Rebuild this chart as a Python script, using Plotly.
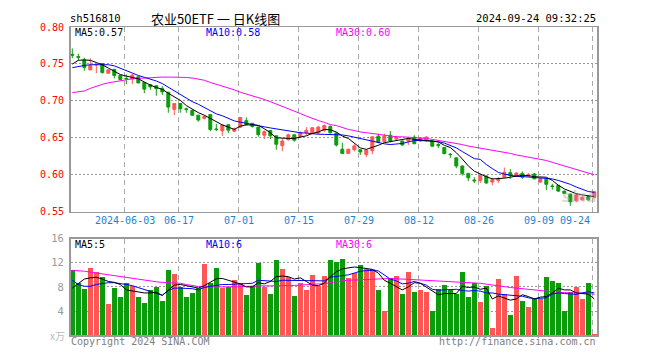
import plotly.graph_objects as go
import pandas as pd

W, H = 660, 360

# ---------------- data ----------------
holidays = ["2024-06-10", "2024-09-16", "2024-09-17"]
dates = [d.strftime("%Y-%m-%d") for d in pd.bdate_range("2024-05-21", "2024-09-24")
         if d.strftime("%Y-%m-%d") not in holidays]

open_p = [0.763, 0.760, 0.7555, 0.742, 0.7488, 0.7507, 0.7375, 0.7428, 0.7345, 0.7305,
          0.7297, 0.7327, 0.725, 0.722, 0.7205, 0.7166, 0.7118, 0.6886, 0.6965, 0.6893,
          0.6873, 0.6807, 0.6764, 0.6816, 0.662, 0.6595, 0.6678, 0.659, 0.6645, 0.6733,
          0.6698, 0.6646, 0.6536, 0.6600, 0.6528, 0.6395, 0.6475, 0.6542, 0.6519, 0.6571,
          0.6558, 0.6565, 0.6602, 0.6656, 0.6565, 0.6348, 0.629, 0.634, 0.634, 0.6275,
          0.6326, 0.6523, 0.6449, 0.6536, 0.6484, 0.6458, 0.6458, 0.651, 0.6458, 0.6466,
          0.6458, 0.641, 0.637, 0.6278, 0.623, 0.612, 0.602, 0.593, 0.5924, 0.5985,
          0.5903, 0.5924, 0.5968, 0.603, 0.5977, 0.602, 0.5985, 0.6012, 0.5903, 0.594,
          0.5848, 0.5858, 0.578, 0.574, 0.5649, 0.566, 0.5705, 0.5697]
high_p = [0.771, 0.764, 0.7585, 0.7576, 0.751, 0.751, 0.743, 0.743, 0.735, 0.736,
          0.736, 0.7335, 0.725, 0.7225, 0.721, 0.720, 0.712, 0.697, 0.697, 0.691,
          0.688, 0.681, 0.681, 0.682, 0.669, 0.668, 0.668, 0.664, 0.678, 0.6777,
          0.670, 0.665, 0.6602, 0.6605, 0.653, 0.6493, 0.6558, 0.6545, 0.6589, 0.6646,
          0.6646, 0.666, 0.6681, 0.667, 0.658, 0.6436, 0.635, 0.6414, 0.6345, 0.6348,
          0.6525, 0.6558, 0.6558, 0.6593, 0.653, 0.646, 0.6514, 0.6536, 0.651, 0.6527,
          0.6466, 0.6436, 0.6375, 0.6296, 0.6235, 0.6125, 0.6025, 0.5968, 0.5995, 0.599,
          0.596, 0.5968, 0.610, 0.6077, 0.6035, 0.6047, 0.6025, 0.6025, 0.596, 0.5945,
          0.588, 0.586, 0.5785, 0.5745, 0.574, 0.571, 0.5715, 0.578]
low_p = [0.758, 0.755, 0.741, 0.742, 0.7375, 0.737, 0.737, 0.7305, 0.728, 0.7227,
         0.7227, 0.724, 0.7105, 0.715, 0.707, 0.708, 0.684, 0.681, 0.684, 0.684,
         0.680, 0.672, 0.675, 0.659, 0.659, 0.6528, 0.6565, 0.658, 0.6635, 0.667,
         0.664, 0.6515, 0.6484, 0.6484, 0.634, 0.632, 0.6465, 0.645, 0.650, 0.6536,
         0.655, 0.655, 0.658, 0.656, 0.6383, 0.6285, 0.6285, 0.6318, 0.627, 0.6243,
         0.628, 0.6427, 0.644, 0.644, 0.647, 0.6392, 0.6405, 0.6414, 0.6445, 0.6449,
         0.638, 0.6362, 0.628, 0.623, 0.609, 0.599, 0.5916, 0.589, 0.589, 0.588,
         0.586, 0.589, 0.596, 0.5946, 0.597, 0.5946, 0.5975, 0.594, 0.589, 0.5793,
         0.580, 0.577, 0.574, 0.558, 0.563, 0.5655, 0.565, 0.568]
close_p = [0.762, 0.759, 0.7454, 0.748, 0.7495, 0.7384, 0.742, 0.7345, 0.729, 0.730,
           0.735, 0.7244, 0.716, 0.719, 0.7166, 0.7122, 0.6917, 0.6965, 0.6895, 0.6886,
           0.6807, 0.6742, 0.679, 0.6615, 0.6615, 0.6674, 0.6605, 0.662, 0.6775, 0.6680,
           0.6655, 0.6545, 0.6585, 0.6528, 0.6414, 0.6458, 0.6542, 0.6469, 0.6569, 0.6602,
           0.6637, 0.6646, 0.6667, 0.6569, 0.6405, 0.629, 0.6348, 0.6392, 0.631, 0.6335,
           0.6514, 0.644, 0.6527, 0.6458, 0.6514, 0.6405, 0.6492, 0.6422, 0.650, 0.651,
           0.6388, 0.640, 0.6287, 0.6274, 0.612, 0.602, 0.596, 0.592, 0.599, 0.589,
           0.5933, 0.5946, 0.6034, 0.599, 0.6025, 0.5968, 0.6003, 0.5946, 0.5946, 0.5872,
           0.5845, 0.578, 0.575, 0.5636, 0.5728, 0.5697, 0.5662, 0.5771]

ma5_p = [0.7498, 0.755, 0.7555, 0.755, 0.752, 0.749, 0.7445, 0.740, 0.7358, 0.7336,
         0.7323, 0.730, 0.7257, 0.7214, 0.7183, 0.7157, 0.7104, 0.706, 0.7008, 0.6938,
         0.6886, 0.6842, 0.6807, 0.6764, 0.6711, 0.6676, 0.6646, 0.6615, 0.6659, 0.6676,
         0.6676, 0.6670, 0.6624, 0.657, 0.6501, 0.6495, 0.6493, 0.6493, 0.651, 0.6528,
         0.656, 0.658, 0.6615, 0.661, 0.658, 0.6525, 0.6493, 0.6435, 0.6365, 0.6345,
         0.637, 0.640, 0.6435, 0.6449, 0.6471, 0.648, 0.6493, 0.648, 0.6475, 0.6465,
         0.6458, 0.6445, 0.640, 0.637, 0.630, 0.6215, 0.6121, 0.605, 0.601, 0.5975,
         0.5945, 0.5946, 0.5955, 0.5968, 0.5985, 0.599, 0.599, 0.5975, 0.5968, 0.5968,
         0.5925, 0.586, 0.581, 0.5772, 0.5745, 0.5728, 0.5715, 0.5706]
ma10_p = [0.745, 0.747, 0.748, 0.749, 0.749, 0.749, 0.749, 0.7475, 0.744, 0.741,
          0.738, 0.7345, 0.732, 0.730, 0.727, 0.7235, 0.7185, 0.713, 0.7085, 0.7035,
          0.699, 0.6955, 0.691, 0.6865, 0.6825, 0.680, 0.676, 0.673, 0.6713, 0.6695,
          0.668, 0.6665, 0.665, 0.6635, 0.662, 0.6605, 0.659, 0.658, 0.657, 0.6565,
          0.6555, 0.655, 0.6548, 0.6545, 0.6545, 0.654, 0.6528, 0.651, 0.649, 0.647,
          0.6455, 0.643, 0.642, 0.641, 0.6415, 0.6425, 0.6445, 0.6465, 0.6465, 0.6462,
          0.6458, 0.6449, 0.643, 0.640, 0.6365, 0.6315, 0.627, 0.622, 0.6209, 0.614,
          0.6085, 0.6034, 0.601, 0.599, 0.598, 0.5977, 0.5972, 0.5968, 0.5965, 0.596,
          0.5945, 0.5925, 0.590, 0.5872, 0.5835, 0.580, 0.5775, 0.5763]
ma30_p = [0.7113, 0.7125, 0.7135, 0.717, 0.720, 0.7225, 0.7245, 0.726, 0.727, 0.729,
          0.730, 0.7305, 0.731, 0.732, 0.7323, 0.7323, 0.7323, 0.7323, 0.7323, 0.7318,
          0.731, 0.730, 0.728, 0.725, 0.7225, 0.721, 0.7185, 0.715, 0.7118, 0.7095,
          0.7075, 0.705, 0.702, 0.699, 0.696, 0.693, 0.690, 0.6865, 0.683, 0.6795,
          0.676, 0.6735, 0.671, 0.668, 0.6667, 0.664, 0.6615, 0.660, 0.658, 0.6571,
          0.656, 0.654, 0.6536, 0.6525, 0.6515, 0.6515, 0.6512, 0.6506, 0.650, 0.6493,
          0.648, 0.6467, 0.6455, 0.644, 0.643, 0.641, 0.639, 0.6375, 0.637, 0.6345,
          0.633, 0.632, 0.6305, 0.629, 0.627, 0.6255, 0.624, 0.623, 0.622, 0.6195,
          0.617, 0.6145, 0.612, 0.610, 0.608, 0.6055, 0.6025, 0.600]

volume = [10.86, 8.71, 7.63, 11.13, 10.48, 9.68, 5.22, 7.80, 6.34, 8.71,
          8.17, 6.34, 5.38, 7.42, 7.96, 5.65, 10.86, 10.2, 7.9, 6.34,
          6.99, 7.8, 11.83, 8.71, 11.18, 7.8, 7.96, 9.14, 8.6, 6.67,
          8.17, 11.99, 7.96, 6.83, 12.47, 11.02, 9.68, 6.45, 8.6, 7.53,
          10.05, 8.17, 9.78, 12.47, 12.15, 12.58, 9.41, 10.32, 11.61, 10.97,
          10.97, 7.42, 4.03, 9.25, 9.84, 6.83, 10.48, 7.1, 7.42, 7.1,
          4.03, 7.63, 8.39, 7.53, 6.88, 10.48, 6.34, 8.71, 5.48, 8.23,
          1.18, 9.25, 6.77, 3.39, 9.84, 5.65, 4.73, 6.18, 6.02, 9.68,
          8.92, 8.71, 4.03, 7.1, 8.06, 6.02, 8.71, 0.2]
ma5_v = [7.8, 8.6, 9.3, 9.5, 9.6, 9.3, 8.9, 8.75, 8.4, 7.5,
         7.35, 7.2, 7.0, 7.0, 7.1, 6.6, 7.5, 8.3, 8.4, 8.2,
         8.0, 7.8, 8.2, 8.8, 9.35, 9.4, 9.1, 8.8, 8.5, 8.0,
         8.0, 8.7, 8.5, 8.9, 9.7, 9.8, 9.7, 9.3, 9.5, 8.9,
         8.3, 8.2, 8.6, 9.7, 10.5, 11.0, 11.2, 11.3, 11.2, 11.0,
         10.9, 10.3, 9.1, 8.6, 8.1, 7.5, 8.0, 8.7, 8.6, 8.0,
         7.3, 6.7, 6.9, 6.9, 6.9, 8.1, 7.9, 8.0, 7.6, 7.8,
         6.0, 6.5, 6.2, 5.8, 6.0, 6.7, 6.4, 6.0, 6.3, 6.4,
         7.0, 7.8, 7.5, 7.5, 7.0, 6.9, 6.8, 6.0]
ma10_v = [9.1, 8.4, 8.1, 8.1, 8.4, 8.6, 8.7, 8.7, 8.6, 8.4,
          8.2, 7.9, 7.6, 7.3, 6.9, 6.6, 7.4, 7.8, 7.8, 7.8,
          7.7, 7.5, 7.9, 8.1, 8.3, 8.4, 8.4, 8.5, 8.5, 8.55,
          8.6, 9.1, 9.0, 8.9, 8.9, 9.1, 9.1, 9.1, 9.1, 9.1,
          9.0, 9.0, 9.0, 9.6, 9.7, 9.8, 10.0, 10.3, 10.6, 10.7,
          10.75, 10.65, 9.9, 9.3, 9.0, 8.5, 8.6, 8.9, 8.6, 8.3,
          7.6, 7.45, 7.5, 7.55, 7.6, 7.4, 7.3, 7.4, 7.3, 7.0,
          7.0, 6.8, 6.7, 6.7, 6.6, 6.45, 6.2, 6.05, 6.1, 6.2,
          6.8, 7.0, 6.9, 6.8, 6.75, 7.0, 7.2, 7.0]
ma30_v = [10.75, 10.7, 10.6, 10.45, 10.3, 10.15, 10.0, 9.8, 9.65, 9.55,
          9.4, 9.2, 9.1, 9.0, 8.85, 8.75, 8.7, 8.65, 8.6, 8.4,
          8.2, 8.06, 8.0, 7.98, 7.96, 7.96, 7.96, 8.0, 8.05, 8.1,
          8.17, 8.17, 8.17, 8.17, 8.17, 8.17, 8.2, 8.25, 8.3, 8.35,
          8.4, 8.45, 8.55, 8.7, 8.9, 9.0, 9.1, 9.15, 9.2, 9.3,
          9.35, 9.4, 9.4, 9.4, 9.35, 9.3, 9.25, 9.2, 9.15, 9.1,
          9.05, 8.98, 8.95, 8.9, 8.8, 8.75, 8.71, 8.65, 8.6, 8.45,
          8.35, 8.2, 8.05, 7.9, 7.8, 7.7, 7.55, 7.4, 7.3, 7.2,
          7.15, 7.1, 7.05, 7.0, 7.0, 7.0, 6.95, 6.75]

tick_dates = ["2024-06-03", "2024-06-17", "2024-07-01", "2024-07-15", "2024-07-29",
              "2024-08-12", "2024-08-26", "2024-09-09", "2024-09-24"]
tick_labels = ["2024-06-03", "06-17", "07-01", "07-15", "07-29",
               "08-12", "08-26", "09-09", "09-24"]
price_ticks = [0.55, 0.60, 0.65, 0.70, 0.75, 0.80]
vol_ticks = [4, 8, 12, 16]

# ---------------- styling ----------------
RED = "#ff5555"
GREEN = "#0a9c0a"
FRAME = "#999999"
MONO = "DejaVu Sans Mono"
x = list(range(len(dates)))
grid_x = [dates.index(d) - 0.25 for d in tick_dates]
vol_colors = [RED if c >= o else GREEN for o, c in zip(open_p, close_p)]

def px(v):
    return v / W

def py(v):
    return 1 - v / H

fig = go.Figure()

fig.add_trace(go.Candlestick(
    x=x, open=open_p, high=high_p, low=low_p, close=close_p,
    increasing=dict(line=dict(color=RED, width=1), fillcolor=RED),
    decreasing=dict(line=dict(color=GREEN, width=1), fillcolor=GREEN),
    whiskerwidth=0, hoverinfo="skip", xaxis="x", yaxis="y", showlegend=False))
for ys, col in [(ma30_p, "#ff00ff"), (ma10_p, "#0000ff"), (ma5_p, "#000000")]:
    fig.add_trace(go.Scatter(x=x, y=ys, mode="lines", line=dict(color=col, width=1),
                             hoverinfo="skip", xaxis="x", yaxis="y", showlegend=False))

fig.add_trace(go.Bar(x=x, y=volume, marker=dict(color=vol_colors, line=dict(width=0)),
                     width=0.8, hoverinfo="skip", xaxis="x2", yaxis="y2", showlegend=False))
for ys, col in [(ma30_v, "#ff00ff"), (ma10_v, "#0000ff"), (ma5_v, "#000000")]:
    fig.add_trace(go.Scatter(x=x, y=ys, mode="lines", line=dict(color=col, width=1),
                             hoverinfo="skip", xaxis="x2", yaxis="y2", showlegend=False))

xr = [-0.3, 87.45]
xdom = [px(70.5), px(597)]
common_x = dict(range=xr, domain=xdom, showline=True, mirror=True, linecolor=FRAME,
                linewidth=1.5, tickvals=grid_x, showticklabels=False, ticks="",
                showgrid=True, gridcolor="#aaaaaa", gridwidth=1, griddash="5px,4px",
                zeroline=False, fixedrange=True)

annotations = []
# date labels
for d, lab, gx in zip(tick_dates, tick_labels, grid_x):
    last = d == tick_dates[-1]
    annotations.append(dict(x=gx - (0.2 if last else 0), y=py(221.5), xref="x", yref="paper",
                            text=lab, showarrow=False, xanchor="right" if last else "center",
                            yanchor="middle", font=dict(family=MONO, size=10, color="#1a84d4")))

def txt(t, xp, yp, color, size=10, anchor="left", family=MONO):
    annotations.append(dict(x=px(xp), y=py(yp), xref="paper", yref="paper", text=t,
                            showarrow=False, xanchor=anchor, yanchor="middle",
                            font=dict(family=family, size=size, color=color)))

txt("sh516810", 68, 12.5, "#000000", 10.5)
txt("农业50ETF 一 日K线图", 149, 12.5, "#000000", 13, family="Noto Sans CJK SC")
txt("2024-09-24 09:32:25", 597.5, 12.5, "#000000", 10.5, anchor="right")
txt("MA5:0.57", 73, 27, "#000000")
txt("MA10:0.58", 204, 27, "#0000ff")
txt("MA30:0.60", 334, 27, "#ff00ff")
txt("MA5:5", 73, 246, "#000000")
txt("MA10:6", 204, 246, "#0000ff")
txt("MA30:6", 334, 246, "#ff00ff")
txt("x万", 67, 340, "#bbbbbb", 10, anchor="right", family="Noto Sans CJK SC")
txt("Copyright 2024 SINA.COM", 69, 346.5, "#808080", 10)
txt("http://finance.sina.com.cn", 597.5, 346.5, "#808080", 10, anchor="right")
txt("<i><b>sina</b></i>", 560, 197, "rgba(170,170,170,0.45)", 15, family="DejaVu Sans")

fig.update_layout(
    width=W, height=H, margin=dict(l=0, r=0, t=0, b=0),
    paper_bgcolor="white", plot_bgcolor="white",
    boxgap=0.3, bargap=0, hovermode=False,
    xaxis=dict(**common_x, anchor="y", rangeslider=dict(visible=False)),
    xaxis2=dict(**common_x, anchor="y2"),
    yaxis=dict(domain=[py(212.3), py(21.7)], range=[0.55, 0.80], tickvals=price_ticks,
               ticktext=[f"{v:.2f}" for v in price_ticks], ticks="", ticklabelstandoff=3,
               tickfont=dict(family=MONO, size=10, color="#ff0000"),
               showgrid=True, gridcolor="#999999", gridwidth=1, griddash="2px,2px",
               showline=True, mirror=True, linecolor=FRAME, linewidth=1.5,
               zeroline=False, fixedrange=True, anchor="x"),
    yaxis2=dict(domain=[py(339.5), py(240)], range=[0, 16], tickvals=vol_ticks,
                ticktext=[str(v) for v in vol_ticks], ticks="", ticklabelstandoff=3,
                tickfont=dict(family=MONO, size=10.5, color="#999999"),
                showgrid=True, gridcolor="#999999", gridwidth=1, griddash="2px,2px",
                showline=True, mirror=True, linecolor=FRAME, linewidth=1.5,
                zeroline=False, fixedrange=True, anchor="x2"),
    annotations=annotations,
)

fig.write_html("out.html", config={"displayModeBar": False, "staticPlot": True},
               post_script="document.body.style.margin='0';document.body.style.overflow='hidden';")
